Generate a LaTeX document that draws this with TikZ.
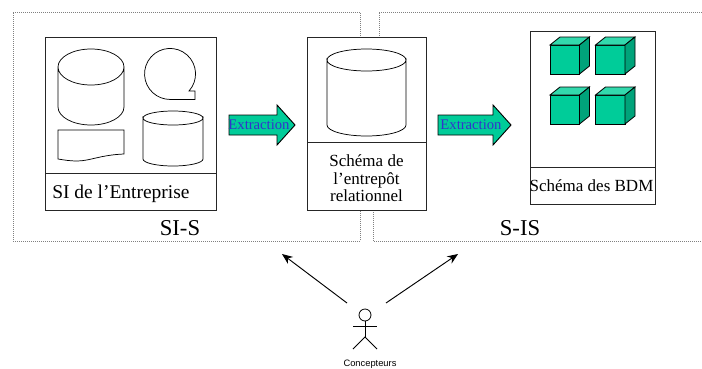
\documentclass[tikz,border=0pt]{standalone}
\usepackage{fontspec}
\setmainfont{Liberation Serif}
\setsansfont{Liberation Sans}
\usetikzlibrary{arrows.meta}
\definecolor{cgreen}{HTML}{00CC99}
\definecolor{ctop}{HTML}{33D9AD}
\definecolor{cside}{HTML}{00A37A}
\definecolor{cblue}{HTML}{3333CC}
\definecolor{cframe}{HTML}{808080}
\newcommand{\cyl}[4]{% cx, top-centre y, rx/ry, height
  \draw[shapeline] (#1-#3,#2) arc[start angle=180,end angle=0,x radius=#3,y radius=#4] -- ++(0,\cylh) arc[start angle=0,end angle=180,x radius=#3,y radius=#4] -- cycle;
  \draw[shapeline] (#1-#3,#2) arc[start angle=180,end angle=360,x radius=#3,y radius=#4];
}
\newcommand{\cube}[2]{%
  \draw[cubeline,fill=cgreen] (#1,#2) rectangle ++(29.5,29);
  \draw[cubeline,fill=ctop] (#1,#2) -- ++(10,-8) -- ++(29.5,0) -- ++(-10,8) -- cycle;
  \draw[cubeline,fill=cside] (#1+29.5,#2) -- ++(10,-8) -- ++(0,29) -- ++(-10,8) -- cycle;
}
\newcommand{\blockarrow}[2]{% left x, total length
  \draw[blockline] (#1,115) -- (#1+#2-18,115) -- (#1+#2-18,105) -- (#1+#2,125) -- (#1+#2-18,145) -- (#1+#2-18,135) -- (#1,135) -- cycle;
}
\newlength{\pxu}\setlength{\pxu}{0.75pt}
\tikzset{
  x=0.75pt,y=-0.75pt,
  frameline/.style={draw=cframe,line width=0.5pt,densely dotted},
  boxnode/.style={draw=black!85,fill=white,line width=0.7pt,inner sep=0pt,outer sep=0pt,anchor=north west},
  divider/.style={draw=black!85,line width=0.7pt},
  shapeline/.style={draw=black,line width=0.55pt},
  cubeline/.style={draw=black,line width=0.6pt},
  blockline/.style={draw=black,fill=cgreen,line width=0.7pt},
  extrlabel/.style={text=cblue,inner sep=0pt,font=\fontsize{11}{12}\selectfont},
  boxlabel/.style={inner sep=0pt,text=black,font=\fontsize{12.75}{13.1}\selectfont,align=center},
  zonelabel/.style={inner sep=0pt,font=\fontsize{17}{18}\selectfont},
  actorline/.style={draw=black,line width=0.6pt},
  pointer/.style={draw=black,line width=0.7pt,-{Stealth[length=8pt,width=6.5pt]}},
}
\def\cylh{0}
\begin{document}
\begin{tikzpicture}
\useasboundingbox[fill=white] (0,0) rectangle (702,368);
% dotted zones
\draw[frameline] (360,36) -- (360,12) -- (13,12) -- (13,241) -- (360,241) -- (360,210);
\draw[frameline] (379,36) -- (379,12) -- (702,12);
\draw[frameline] (373,210) -- (373,241) -- (702,241);
% boxes
\node[boxnode,minimum width=171\pxu,minimum height=173\pxu] (si) at (45,37) {};
\draw[divider] (45,173) -- (216,173);
\node[boxnode,minimum width=119\pxu,minimum height=173\pxu] (rel) at (307,37) {};
\draw[divider] (307,142) -- (426,142);
\node[boxnode,minimum width=125\pxu,minimum height=173\pxu] (bdm) at (530,31) {};
\draw[divider] (530,167) -- (655,167);
% shapes in SI box
\def\cylh{40}
\cyl{91}{67}{33}{18}
\def\cylh{41}
\cyl{173}{118}{30}{7}
\draw[shapeline] (189,91) arc[start angle=42,end angle=-270,radius=25.5] -- (195,99.5) -- (195,91) -- cycle;
\draw[shapeline] (58,130) -- (124,130) -- (124,154) .. controls (100,155) and (90,161) .. (77,161) .. controls (70,161) and (64,160) .. (58,159) -- cycle;
% relational cylinder
\def\cylh{65}
\cyl{366.5}{60}{39.5}{11}
% cubes
\cube{550}{45}\cube{595.5}{45}
\cube{550}{95}\cube{595.5}{95}
% block arrows
\blockarrow{229}{66}
\blockarrow{438}{73}
\node[extrlabel] (ex1) at (259,125) {Extraction};
\node[extrlabel] (ex2) at (471,125) {Extraction};
% labels
\node[boxlabel,font=\fontsize{14.6}{15}\selectfont,anchor=west] (silabel) at (52,194) {SI de l’Entreprise};
\node[boxlabel] (rellabel) at (366.5,178.5) {Schéma de\\l’entrepôt\\relationnel};
\node[boxlabel] (bdmlabel) at (591.5,186) {Schéma des BDM};
\node[zonelabel] (sis) at (180,228) {SI-S};
\node[zonelabel] (sis2) at (520,228) {S-IS};
% actor
\node[draw=black,circle,line width=0.6pt,minimum size=12\pxu,inner sep=0pt] (head) at (365,315) {};
\coordinate (hips) at (365,337);
\draw[actorline] (head.south) -- (hips);
\draw[actorline] (353,326) -- (377,326);
\draw[actorline] (353,349) -- (hips) -- (377,349);
\node[inner sep=0pt,font=\sffamily\fontsize{7}{8}\selectfont] (concepteurs) at (370,364) {Concepteurs};
% pointers
\coordinate (fromL) at (347,303);
\coordinate (fromR) at (386,303);
\coordinate (toL) at (282,254);
\coordinate (toR) at (458,254);
\draw[pointer] (fromL) -- (toL);
\draw[pointer] (fromR) -- (toR);
\end{tikzpicture}
\end{document}
